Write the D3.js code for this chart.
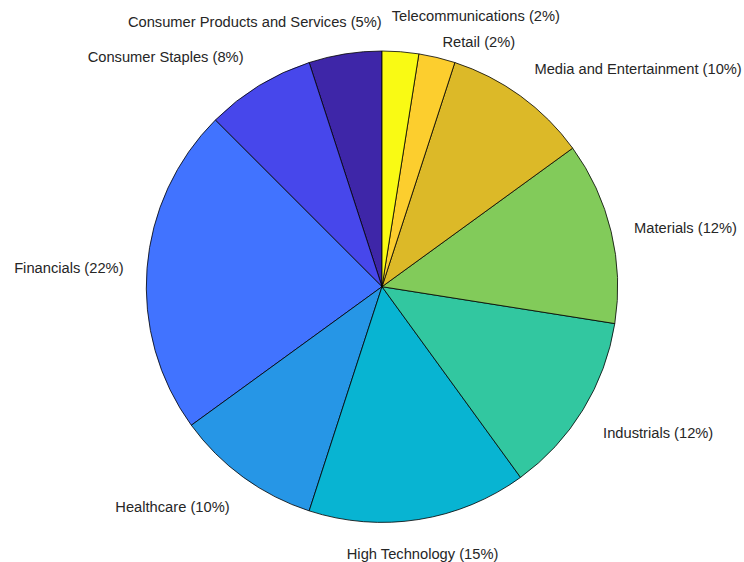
<!DOCTYPE html>
<html>
<head>
<meta charset="utf-8">
<script src="https://cdn.jsdelivr.net/npm/d3@7"></script>
<style>
  html, body { margin: 0; padding: 0; background: #fff; }
  svg { display: block; }
  text { font-family: "Liberation Sans", Arial, Helvetica, sans-serif; }
</style>
</head>
<body>
<svg id="chart" width="744" height="562"></svg>
<script>
// Number of companies per sector
const sectors = [
  "Consumer Products and Services",
  "Consumer Staples",
  "Financials",
  "Healthcare",
  "High Technology",
  "Industrials",
  "Materials",
  "Media and Entertainment",
  "Retail",
  "Telecommunications"
];
const counts = [2, 3, 9, 4, 6, 5, 5, 4, 1, 1];

// parula-style colormap, one entry per sector
const palette = [
  "#3e26a8", "#4747eb", "#4173ff", "#2696e6", "#08b4d2",
  "#32c7a0", "#82cb5a", "#dcb928", "#fcce2e", "#f9fa14"
];

// Extra shifts for the crowded labels near the top
const labelShift = {
  "Telecommunications": [-10.6, -4.4],
  "Retail": [0, 15.2],
  "Consumer Products and Services": [40.3, -1],
  "Consumer Staples": [-3, -1]
};

const W = 744, H = 562;
const cx = 382, cy = 286.7, R = 235.7;
const labelR = R * 1.1;

const svg = d3.select("#chart");
const g = svg.append("g").attr("transform", `translate(${cx},${cy})`);

const total = d3.sum(counts);

// round half to even, as printf does
function roundHalfEven(x) {
  const f = Math.floor(x);
  const d = x - f;
  if (d > 0.5) return f + 1;
  if (d < 0.5) return f;
  return f % 2 === 0 ? f : f + 1;
}

const items = sectors.map((s, i) => ({ name: s, value: counts[i], color: palette[i] }));

// slices run counter-clockwise from 12 o'clock
const pie = d3.pie().value(d => d.value).sort(null).startAngle(0).endAngle(-2 * Math.PI);
const arcs = pie(items);
const arc = d3.arc().innerRadius(0).outerRadius(R);

g.selectAll("path.slice")
  .data(arcs)
  .join("path")
  .attr("class", "slice")
  .attr("d", arc)
  .attr("fill", d => d.data.color)
  .attr("stroke", "#000")
  .attr("stroke-width", 0.8)
  .attr("stroke-linejoin", "round");

// labels
arcs.forEach(a => {
  const mid = (a.startAngle + a.endAngle) / 2;
  const s = Math.sin(mid), c = Math.cos(mid);
  let x = labelR * s;
  let y = -labelR * c;
  let anchor;
  if (Math.abs(s) < 0.2 && c < 0) anchor = "middle";
  else anchor = s > 0 ? "start" : "end";
  let baseShift;
  if (Math.abs(c) < 0.3) baseShift = 6.5;
  else if (c > 0) baseShift = -3;
  else baseShift = 16;
  const sh = labelShift[a.data.name] || [0, 0];
  const pct = roundHalfEven(a.data.value * 100 / total);
  g.append("text")
    .attr("x", x + sh[0])
    .attr("y", y + baseShift + sh[1])
    .attr("text-anchor", anchor)
    .attr("font-size", "14.7px")
    .attr("fill", "#262626")
    .text(`${a.data.name} (${pct}%)`);
});
</script>
</body>
</html>
